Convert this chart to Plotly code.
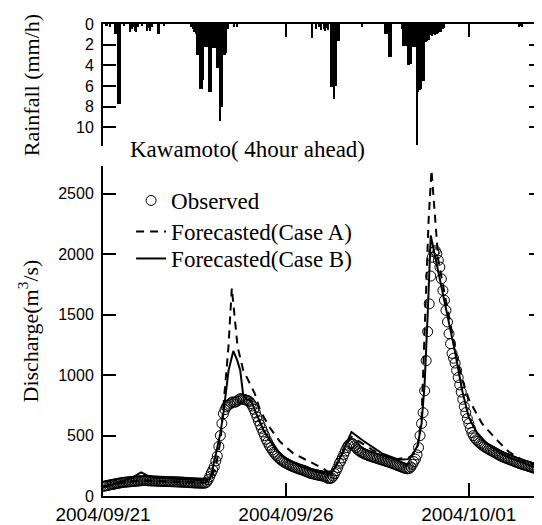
import numpy as np
import pandas as pd
import plotly.graph_objects as go

START = "2004-09-21 00:00"

# ---- Rainfall (mm/h), hour offsets from START ----
rain_hours = [2, 3, 5, 8, 9, 10, 11, 14, 18, 19, 20, 21, 22, 23, 26, 29, 30, 31, 32, 36, 37, 40,
              58, 59, 60, 61, 62, 63, 64, 65, 66, 67, 68, 69, 70, 71, 72, 73, 74, 75, 76, 77, 78, 79, 80, 81, 82,
              86, 88,
              137, 140, 142, 143, 145, 146, 147, 148, 150, 151, 152, 153, 154, 155, 170,
              185, 186, 187, 188, 189,
              196, 197, 198, 199, 200, 201, 202, 203, 204, 205, 206, 207, 208, 209, 210, 211, 212,
              213, 214, 215, 216, 217, 218, 219, 220, 221, 222, 223, 224,
              273, 274, 275]
rain_mm = [0.2, 0.2, 0.3, 1.0, 1.0, 7.7, 7.7, 0.2, 0.8, 0.5, 0.3, 0.7, 0.8, 0.3, 0.2, 0.7, 0.4, 0.7, 0.3, 1.0, 1.0, 0.2,
           0.3, 0.5, 0.8, 1.0, 3.0, 3.0, 6.3, 6.3, 5.4, 2.2, 2.2, 2.2, 6.6, 6.6, 2.3, 2.3, 2.3, 4.3, 4.3, 9.4, 8.0, 3.0, 3.0, 2.8, 0.5,
           0.3, 0.3,
           1.4, 0.5, 0.3, 0.6, 0.5, 0.7, 0.4, 0.6, 6.1, 6.1, 7.3, 6.0, 1.6, 1.6, 0.3,
           1.0, 1.0, 1.0, 3.2, 3.2,
           0.5, 2.1, 2.1, 2.1, 4.0, 4.0, 3.9, 2.2, 2.2, 2.2, 11.7, 6.6, 6.4, 6.3, 5.5, 5.5, 1.7,
           1.6, 1.5, 1.1, 1.2, 1.0, 1.1, 1.0, 0.9, 0.8, 0.8, 0.5, 0.4,
           0.3, 0.2, 0.3]

# ---- Observed discharge (m3/s), hourly from START ----
obs_q = [80, 82, 85, 88, 90, 93, 95, 98, 100, 103, 105, 108,
         110, 112, 114, 115, 116, 117, 118, 120, 121, 122, 123, 124,
         125, 126, 127, 128, 128, 127, 126, 125, 125, 124, 124, 123,
         123, 122, 122, 121, 121, 120, 120, 119, 119, 118, 118, 117,
         117, 116, 116, 115, 115, 114, 113, 112, 111, 110, 110, 109,
         108, 108, 107, 107, 106, 106, 106, 107,
         115, 135, 160, 190, 215, 242, 290, 330, 410, 500, 600, 680,
         715, 738, 750, 760, 770, 779, 775, 778, 785, 795, 805, 805,
         800, 798, 793, 790, 782, 765, 745, 718, 688, 655, 622, 590,
         560, 530, 500, 470, 445, 420, 400, 380, 362, 346, 332, 318,
         306, 296, 287, 279, 272, 265, 258, 252, 246, 241, 236, 231,
         226, 222, 218, 214, 210, 204, 199, 194, 188, 185, 182, 179,
         176, 173, 170, 168, 165, 163, 158, 150, 145, 144, 150, 165,
         185, 210, 235, 270, 290, 315, 345, 372, 400, 420, 432, 438,
         430, 415, 400, 385, 375, 365, 358, 352, 346, 341, 336, 331,
         326, 322, 318, 314, 310, 306, 302, 298, 294, 290, 286, 282,
         278, 274, 269, 264, 259, 254, 249, 244, 239, 234, 230, 226,
         225, 228, 240, 262, 285, 305, 340, 400, 500, 600, 690, 870,
         1120, 1360, 1590, 1820, 1975, 2020, 2030, 2005, 1950, 1894, 1797, 1701,
         1620, 1536, 1440, 1343, 1260, 1180, 1140, 1100, 1040, 980, 920, 860,
         800, 740, 690, 640, 600, 560, 525, 500, 480, 465, 452, 440,
         430, 420, 410, 402, 394, 387, 380, 373, 366, 359, 352, 345,
         338, 331, 325, 320, 315, 310, 305, 300, 295, 290, 285, 280,
         275, 270, 266, 262, 258, 254, 250, 246, 242, 238, 234, 230,
         226, 220, 212, 205, 200]

# ---- Forecasted (Case A), hour offsets / discharge ----
case_a_hours = [0, 12, 24, 48, 67, 71, 74.5, 77, 79, 81, 82.3, 84.5, 88.3, 92, 95.5, 99.5, 103,
                109.7, 116.2, 124.8, 135.6, 144.2, 147.6, 151, 156, 160.8, 163.2, 168, 176.9, 190,
                201, 204, 206.5, 209, 211, 212.5, 213.6, 215.5, 218.2, 220, 223, 228, 232, 236,
                240, 244.3, 248.6, 257.3, 266.2, 276, 288]
case_a_q = [80, 110, 130, 120, 110, 140, 280, 450, 750, 1000, 1234, 1720, 1234, 1041, 945, 850, 711,
            560, 449, 353, 284, 229, 200, 210, 320, 450, 490, 450, 380, 300,
            321, 350, 420, 650, 1300, 1800, 2281, 2694, 2198, 1950, 1750, 1400, 1150, 950,
            800, 700, 601, 477, 366, 290, 235]

# ---- Forecasted (Case B), hour offsets / discharge ----
case_b_hours = [0, 5, 12, 19, 25, 29, 36, 48, 60, 67, 70, 72, 74, 77, 79, 82.4, 85.5, 88, 90,
                92, 94, 97, 101, 105.5, 113, 120, 130, 139, 146, 150, 155, 160, 163, 170, 183,
                194, 200, 203, 206.5, 209, 211, 213, 215, 217.5, 222, 226.5, 231, 235.5, 240, 245,
                252, 264, 276, 288]
case_b_q = [70, 90, 120, 150, 195, 170, 150, 145, 135, 130, 140, 230, 355, 520, 684, 1041, 1200, 1124, 1041,
            835, 800, 790, 670, 540, 390, 310, 245, 205, 185, 190, 300, 440, 530, 463, 353,
            300, 305, 340, 420, 600, 930, 1500, 2156, 2004, 1729, 1481, 1190, 880, 650, 530,
            430, 330, 270, 215]

q_ticks = [0, 500, 1000, 1500, 2000, 2500]
r_ticks = [0, 2, 4, 6, 8, 10]

t0 = pd.Timestamp(START)
def to_time(hours):
    return t0 + pd.to_timedelta(np.asarray(hours, dtype=float), unit="h")

obs_time = to_time(range(len(obs_q)))

SERIF = "Liberation Serif"
SANS = "Liberation Sans"

fig = go.Figure()
fig.add_trace(go.Bar(x=to_time(rain_hours), y=rain_mm, width=3600 * 1000,
                     marker=dict(color="black", line=dict(width=0)),
                     xaxis="x2", yaxis="y2", showlegend=False))
fig.add_trace(go.Scatter(x=obs_time, y=obs_q, mode="markers", name="Observed",
                         legend="legend",
                         marker=dict(symbol="circle-open", size=10, color="black",
                                     line=dict(width=1, color="black"))))
fig.add_trace(go.Scatter(x=to_time(case_a_hours), y=case_a_q, mode="lines",
                         name="Forecasted(Case A)", legend="legend2",
                         line=dict(color="black", width=2, dash="8px,6px")))
fig.add_trace(go.Scatter(x=to_time(case_b_hours), y=case_b_q, mode="lines",
                         name="Forecasted(Case B)", legend="legend3",
                         line=dict(color="black", width=2)))

xr = ["2004-09-21 00:00", "2004-10-03 00:00"]
axis_common = dict(showline=True, linewidth=2, linecolor="black", ticks="inside",
                   ticklen=13, tickwidth=2, tickcolor="black", showgrid=False,
                   zeroline=False, automargin=False)
leg_common = dict(xanchor="left", yanchor="top", bgcolor="rgba(0,0,0,0)", borderwidth=0,
                  font=dict(family=SERIF, size=23, color="black"))

fig.update_layout(
    width=534, height=517,
    margin=dict(l=95, r=0, t=16, b=29),
    plot_bgcolor="white", paper_bgcolor="white",
    bargap=0,
    xaxis=dict(domain=[0, 1], anchor="y", type="date", range=xr,
               tick0="2004-09-21", dtick=5 * 86400000, tickformat="%Y/%m/%d",
               tickfont=dict(family=SANS, size=19, color="black"),
               ticklabelstandoff=0, **axis_common),
    yaxis=dict(domain=[0, 0.699], anchor="x", range=[0, 2730], tickvals=q_ticks,
               mirror="ticks", tickfont=dict(family=SANS, size=16, color="black"),
               ticklabelstandoff=4,
               title=dict(text="Discharge(m<sup>3</sup>/s)", standoff=14,
                          font=dict(family=SERIF, size=22, color="black")),
               **axis_common),
    xaxis2=dict(domain=[0, 1], anchor="y2", type="date", range=xr, side="top",
                matches="x", tick0="2004-09-21", dtick=5 * 86400000,
                showticklabels=False, **axis_common),
    yaxis2=dict(domain=[0.7415, 1], anchor="x2", range=[11.8, 0], tickvals=r_ticks,
                mirror="ticks", tickfont=dict(family=SANS, size=16, color="black"),
                ticklabelstandoff=4,
                title=dict(text="Rainfall (mm/h)", standoff=30,
                           font=dict(family=SERIF, size=22, color="black")),
                **axis_common),
    legend=dict(x=0.064, y=0.6716, **leg_common),
    legend2=dict(x=0.064, y=0.6059, **leg_common),
    legend3=dict(x=0.064, y=0.5487, **leg_common),
    annotations=[dict(text="Kawamoto( 4hour ahead)", xref="paper", yref="paper",
                      x=0.057, y=0.735, xanchor="left", yanchor="middle",
                      showarrow=False, font=dict(family=SERIF, size=23, color="black"))],
)

fig.write_html("out.html")
